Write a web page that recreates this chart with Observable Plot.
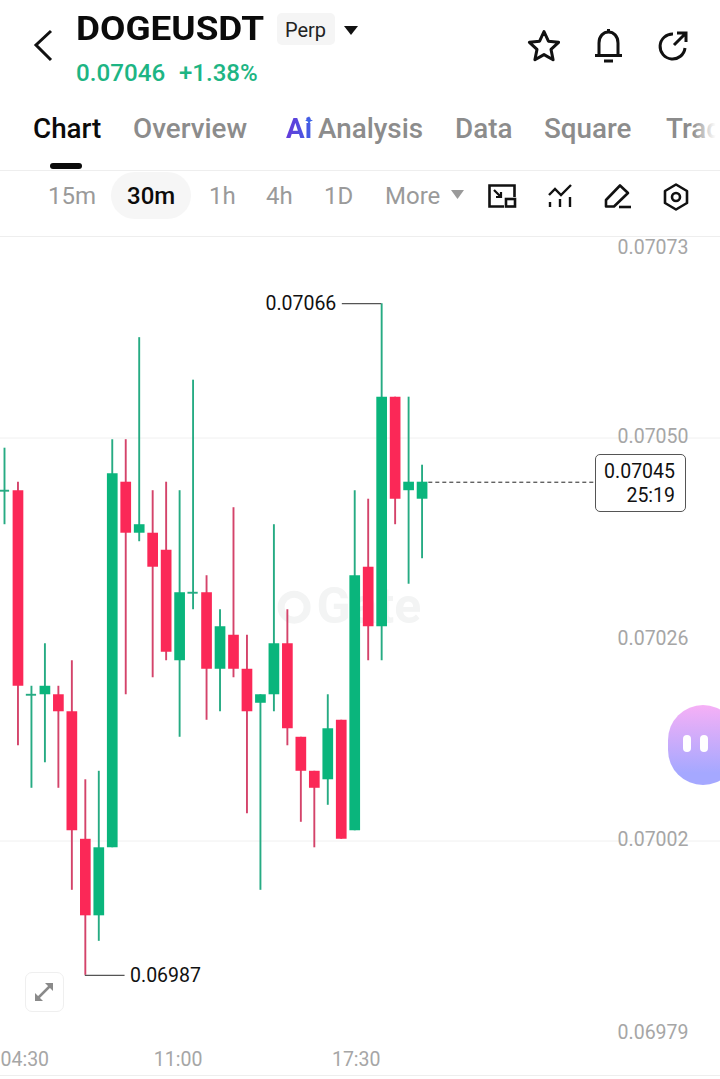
<!DOCTYPE html>
<html>
<head>
<meta charset="utf-8">
<script src="https://cdn.jsdelivr.net/npm/d3@7"></script>
<script src="https://cdn.jsdelivr.net/npm/@observablehq/plot@0.6"></script>
<style>
html,body{margin:0;padding:0;background:#fff;}
#page{position:relative;width:720px;height:1079px;overflow:hidden;font-family:Roboto,sans-serif;background:#fff;}
.t{position:absolute;white-space:nowrap;line-height:32px;height:32px;}
.tab{font-size:27.8px;font-weight:500;color:#8c8c8c;top:113px;}
.iv{font-size:24px;font-weight:400;color:#9a9a9a;top:180px;}
.abs{position:absolute;}
svg.ic{position:absolute;overflow:visible;fill:none;stroke:#111;stroke-width:3;}
#chart{position:absolute;left:0;top:236px;}
</style>
</head>
<body>
<div id="page">
  <div id="chart"></div>

  <!-- header -->
  <svg class="ic" style="left:0;top:0;stroke-width:3" width="60" height="70"><path d="M51 31 L36 45 L51 60"/></svg>
  <div class="t" style="left:76px;top:13px;font-size:33px;font-weight:700;color:#0b0b0b;transform:scaleX(1.118);transform-origin:left center;">DOGEUSDT</div>
  <div class="abs" style="left:277px;top:13px;width:58px;height:32px;background:#f5f5f5;border-radius:5px;"></div>
  <div class="t" style="left:285px;top:14px;font-size:20px;color:#222;">Perp</div>
  <svg class="ic" style="left:344px;top:26px;stroke:none;fill:#111" width="15" height="10"><path d="M0 0H14L7 9Z"/></svg>
  <div class="t" style="left:76px;top:57px;font-size:24.2px;font-weight:500;color:#1db584;">0.07046</div>
  <div class="t" style="left:179px;top:57px;font-size:24px;font-weight:500;color:#1db584;">+1.38%</div>

  <svg class="ic" style="left:527px;top:29px;" width="34" height="34"><path d="M17 2.500 L21.400 12.200 L31.600 13.300 L24 20.400 L26.100 30.800 L17 25.600 L7.900 30.800 L10 20.400 L2.400 13.300 L12.600 12.200 Z" stroke-linejoin="round"/></svg>
  <svg class="ic" style="left:593px;top:28px;" width="32" height="36"><path d="M6 27 V15 C6 8 10.500 4 15.500 4 C20.500 4 25 8 25 15 V27 M2 27.500 H29 M11 33 H20 M15.500 1 V4"/></svg>
  <svg class="ic" style="left:656px;top:29px;" width="34" height="34"><path d="M17 5 A12.500 12.500 0 1 0 29 19 M18 16 L29 5 M21 4 H30 V13"/></svg>

  <!-- tabs -->
  <div class="t tab" style="left:33px;color:#0b0b0b;">Chart</div>
  <div class="t tab" style="left:133px;">Overview</div>
  <div class="t tab" style="left:286px;font-weight:700;background:linear-gradient(100deg,#6a35d8,#3d63e6);-webkit-background-clip:text;background-clip:text;color:transparent;">Ai</div>
  <svg class="ic" style="left:304.500px;top:116px;stroke:none;fill:#3d63e6" width="8" height="9"><path d="M4 0 L5.300 3.500 L8 4.500 L5.300 5.500 L4 9 L2.700 5.500 L0 4.500 L2.700 3.500Z"/></svg>
  <div class="t tab" style="left:318px;">Analysis</div>
  <div class="t tab" style="left:455px;">Data</div>
  <div class="t tab" style="left:544px;">Square</div>
  <div class="t tab" style="left:666px;">Trad</div>
  <div class="abs" style="left:692px;top:100px;width:28px;height:68px;background:linear-gradient(90deg,rgba(255,255,255,0),#fff 85%);"></div>
  <div class="abs" style="left:50px;top:163px;width:32px;height:6px;border-radius:3px;background:#0b0b0b;"></div>
  <div class="abs" style="left:0;top:169.500px;width:720px;height:1px;background:#eeeeee;"></div>

  <!-- intervals -->
  <div class="abs" style="left:111px;top:172px;width:80px;height:47px;border-radius:24px;background:#f6f6f6;"></div>
  <div class="t iv" style="left:48px;">15m</div>
  <div class="t iv" style="left:127px;color:#0b0b0b;font-weight:500;">30m</div>
  <div class="t iv" style="left:209px;">1h</div>
  <div class="t iv" style="left:266px;">4h</div>
  <div class="t iv" style="left:324px;">1D</div>
  <div class="t iv" style="left:385px;">More</div>
  <svg class="ic" style="left:451px;top:190px;stroke:none;fill:#9a9a9a" width="14" height="10"><path d="M0 0H13L6.500 9Z"/></svg>

  <svg class="ic" style="left:487px;top:183px;stroke-width:2.600" width="32" height="28"><path d="M17 23.500 H2.500 V2.500 H27.500 V14"/><rect x="19" y="16" width="9" height="7.500"/><path d="M7 7 L14 14 M9 14 H14 V9" stroke-width="2.200"/></svg>
  <svg class="ic" style="left:547px;top:184px;stroke-width:2.400" width="28" height="28"><path d="M2 11 L8 5 L14 11 L24 1"/><path d="M3 18 V23 M13 15 V23 M23 13 V23"/></svg>
  <svg class="ic" style="left:604px;top:183px;stroke-width:2.600" width="30" height="28"><path d="M2 23.500 V17 L16 2.500 L24 10 L10 23.500 Z" stroke-linejoin="round"/><path d="M15 24 H27"/></svg>
  <svg class="ic" style="left:663px;top:183px;stroke-width:2.600" width="28" height="28"><path d="M13 1.500 L24 8 V20 L13 26.500 L2 20 V8 Z" stroke-linejoin="round"/><circle cx="13" cy="14" r="4"/></svg>
  <div class="abs" style="left:0;top:235.500px;width:720px;height:1px;background:#eeeeee;"></div>

  <!-- current price label -->
  <div class="abs" style="left:594.500px;top:453.500px;width:89px;height:56px;border:1px solid #555;border-radius:5px;background:#fff;"></div>
  <div class="t" style="right:45px;top:455.500px;font-size:19.500px;color:#111;">0.07045</div>
  <div class="t" style="right:45px;top:479.500px;font-size:19.500px;color:#111;">25:19</div>

  <!-- overlays -->
  <div class="abs" style="left:25px;top:972px;width:37px;height:38px;border:1.500px solid #efefef;border-radius:7px;background:#fff;"></div>
  <svg class="ic" style="left:34px;top:982px;stroke:#8a8a8a;stroke-width:2.500" width="20" height="20"><path d="M3 17 L17 3"/><path d="M11 1 H19 V9 Z M1 11 V19 H9 Z" fill="#8a8a8a" stroke="none"/></svg>
  <div class="abs" style="left:668px;top:705px;width:70px;height:80px;border-radius:38px;background:linear-gradient(180deg,#f6b0f6,#a5a8ff 85%);"></div>
  <div class="abs" style="left:683px;top:735px;width:8px;height:17px;border-radius:4px;background:#fff;"></div>
  <div class="abs" style="left:700px;top:735px;width:8px;height:17px;border-radius:4px;background:#fff;"></div>
  <div class="abs" style="left:0;top:1075px;width:720px;height:1px;background:#eeeeee;"></div>
</div>

<script>
const opens  = [0.07044,0.07044,0.07020,0.07020,0.07020,0.07018,0.07003,0.06994,0.07002,0.07045,0.07039,0.07039,0.07037,0.07024,0.07032,0.07032,0.07023,0.07027,0.07023,0.07019,0.07020,0.07026,0.07015,0.07011,0.07010,0.07017,0.07004,0.07035,0.07028,0.07055,0.07044,0.07043];
const closes = [0.07044,0.07021,0.07020,0.07021,0.07018,0.07004,0.06994,0.07002,0.07046,0.07039,0.07040,0.07035,0.07025,0.07032,0.07032,0.07023,0.07028,0.07023,0.07018,0.07020,0.07026,0.07016,0.07011,0.07009,0.07016,0.07003,0.07034,0.07028,0.07055,0.07043,0.07045,0.07045];
const highs  = [0.07049,0.07045,0.07021,0.07026,0.07021,0.07024,0.07010,0.07011,0.07050,0.07050,0.07062,0.07044,0.07045,0.07044,0.07057,0.07034,0.07030,0.07042,0.07027,0.07020,0.07040,0.07030,0.07015,0.07011,0.07020,0.07017,0.07044,0.07043,0.07066,0.07055,0.07055,0.07047];
const lows   = [0.07040,0.07014,0.07009,0.07012,0.07009,0.06997,0.06987,0.06991,0.07002,0.07020,0.07038,0.07022,0.07024,0.07015,0.07030,0.07017,0.07018,0.07022,0.07006,0.06997,0.07018,0.07014,0.07005,0.07002,0.07007,0.07003,0.07004,0.07024,0.07024,0.07040,0.07033,0.07036];
const priceLevels = [0.070739,0.070502,0.070265,0.070028,0.069791];
const priceLabels = ["0.07073","0.07050","0.07026","0.07002","0.06979"];
const gridLevels = [0.070502,0.070028];
const timeIndex = [0,13,26];
const timeLabels = ["04:30","11:00","17:30"];
const lastPrice = 0.07045, highPrice = 0.07066, lowPrice = 0.06987;
const highIndex = 28, lowIndex = 6, lastIndex = 31;

const GREEN = "#0ab57c", RED = "#fb2857", GREEN_W = "#26ab83", RED_W = "#d4436a";
const candles = opens.map((o,i)=>({i,open:o,close:closes[i],high:highs[i],low:lows[i],up:closes[i]>=o}));
const bodies = candles.filter(d=>d.open!==d.close);
const dojis = candles.filter(d=>d.open===d.close);
const levelRows = priceLevels.map((v,i)=>({v,label:priceLabels[i]}));
const labelFont = {fontSize:19.5, fill:"#a6a6a6"};
const timeMark = (idx,dx,anchor)=>Plot.text([timeLabels[idx]],{x:[timeIndex[idx]],text:d=>d,frameAnchor:"bottom",lineAnchor:"middle",dy:17,dx,textAnchor:anchor,...labelFont});
const width = 720, height = 843;
const spanStart = -0.297, spanEnd = 53.155;

const plot = Plot.plot({
  width, height,
  marginTop:0, marginBottom:37, marginLeft:0, marginRight:0,
  style:{fontFamily:"Roboto, sans-serif", background:"transparent", overflow:"visible"},
  x:{domain:[spanStart,spanEnd], axis:null},
  y:{domain:[priceLevels[4],priceLevels[0]], axis:null},
  marks:[
    // watermark
    Plot.dot([21.5],{x:d=>d,y:[0.070303],r:13,stroke:"#f3f4f4",strokeWidth:7,fill:"none"}),
    Plot.text(["Gate"],{x:[23.16],y:[0.070303],text:d=>d,textAnchor:"start",fontSize:50,fontWeight:700,fill:"#f3f4f4"}),
    // grid
    Plot.ruleY(gridLevels,{stroke:"#f0f0f0",strokeWidth:1}),
    // last price dashed line
    Plot.ruleY([lastPrice],{x1:lastIndex+0.5,x2:43.9,stroke:"#222",strokeWidth:1,strokeDasharray:"4,3"}),
    // wicks
    Plot.ruleX(candles,{x:"i",y1:"low",y2:"high",stroke:d=>d.up?GREEN_W:RED_W,strokeWidth:1.9}),
    // bodies
    Plot.ruleX(bodies,{x:"i",y1:"open",y2:"close",stroke:d=>d.up?GREEN:RED,strokeWidth:10.7}),
    Plot.ruleY(dojis,{x1:d=>d.i-0.38,x2:d=>d.i+0.38,y:"open",stroke:GREEN_W,strokeWidth:1.9}),
    // high/low callouts
    Plot.ruleY([highPrice],{x1:highIndex-2.92,x2:highIndex,stroke:"#555",strokeWidth:1.2}),
    Plot.text([highPrice],{x:[highIndex-2.92],y:d=>d,text:d=>d.toFixed(5),textAnchor:"end",dx:-6,fontSize:19.5,fill:"#111"}),
    Plot.ruleY([lowPrice],{x1:lowIndex,x2:lowIndex+2.95,stroke:"#555",strokeWidth:1.2}),
    Plot.text([lowPrice],{x:[lowIndex+2.95],y:d=>d,text:d=>d.toFixed(5),textAnchor:"start",dx:5,fontSize:19.5,fill:"#111"}),
    // price labels
    Plot.text(levelRows.slice(1,4),{y:"v",text:"label",frameAnchor:"right",dx:-32,dy:-1,textAnchor:"end",...labelFont}),
    Plot.text(levelRows.slice(0,1),{y:"v",text:"label",frameAnchor:"right",dx:-32,dy:11,textAnchor:"end",...labelFont}),
    Plot.text(levelRows.slice(4,5),{y:"v",text:"label",frameAnchor:"right",dx:-32,dy:-10,textAnchor:"end",...labelFont}),
    // time labels
    timeMark(0,-4,"start"),
    timeMark(1,-1.5,"middle"),
    timeMark(2,1.5,"middle")
  ]
});
document.getElementById("chart").appendChild(plot);
</script>
</body>
</html>
